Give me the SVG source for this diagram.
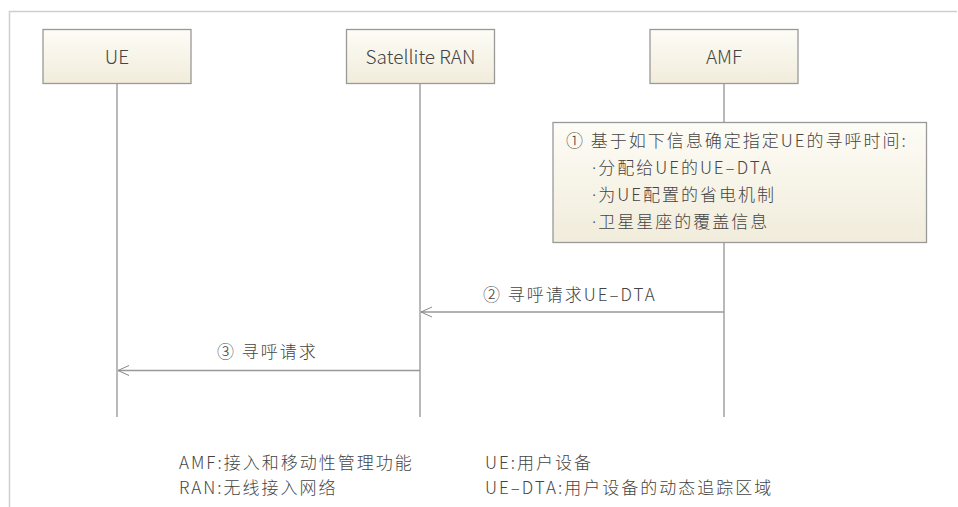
<svg xmlns="http://www.w3.org/2000/svg" width="958" height="507" viewBox="0 0 958 507">
<defs>
<linearGradient id="boxg" x1="0" y1="0" x2="0" y2="1">
<stop offset="0" stop-color="#fdfcf6"/>
<stop offset="1" stop-color="#f1ecdb"/>
</linearGradient>
<marker id="arr" markerWidth="14" markerHeight="12" refX="12" refY="6" orient="auto" markerUnits="userSpaceOnUse">
<path d="M1,1 L12,6 L1,11" fill="none" stroke="#888" stroke-width="1"/>
</marker>
</defs>
<style>
.frame{stroke:#cfcfcf;stroke-width:1.5;fill:none}
.box{fill:url(#boxg);stroke:#999;stroke-width:1.3}
.life{stroke:#8a8a8a;stroke-width:1.2;fill:none}
.msg{stroke:#999;stroke-width:1.3;fill:none}
text{font-family:"Noto Sans CJK SC","Noto Sans",sans-serif;fill:#444;font-weight:300}
.lbl{font-size:19px;text-anchor:middle}
.t{font-size:17px;letter-spacing:2px}
.dot{font-family:"Noto Sans",sans-serif}
</style>
<rect width="958" height="507" fill="#fff"/>
<path class="frame" d="M9.5,507 V11.5 H957"/>
<g id="connectors">
<line class="life" x1="117" y1="84" x2="117" y2="417"/>
<line class="life" x1="420" y1="84" x2="420" y2="417"/>
<line class="life" x1="724" y1="84" x2="724" y2="417"/>
<line class="msg" x1="724" y1="312" x2="421" y2="312" marker-end="url(#arr)"/>
<line class="msg" x1="420" y1="370.5" x2="118" y2="370.5" marker-end="url(#arr)"/>
<text class="t" x="483" y="301">② 寻呼请求UE–DTA</text>
<text class="t" x="217" y="358">③ 寻呼请求</text>
</g>
<g id="ue">
<rect class="box" x="43" y="29.5" width="148" height="54"/>
<text class="lbl" x="117" y="64">UE</text>
</g>
<g id="ran">
<rect class="box" x="346.5" y="29.5" width="148" height="54"/>
<text class="lbl" x="420.5" y="64">Satellite RAN</text>
</g>
<g id="amf">
<rect class="box" x="650" y="29.5" width="148" height="54"/>
<text class="lbl" x="724" y="64">AMF</text>
</g>
<g id="note">
<rect class="box" x="553" y="122.5" width="373.5" height="120"/>
<text class="t" x="566" y="147">① 基于如下信息确定指定UE的寻呼时间:</text>
<text class="t" x="592" y="174"><tspan class="dot">·</tspan>分配给UE的UE–DTA</text>
<text class="t" x="592" y="201"><tspan class="dot">·</tspan>为UE配置的省电机制</text>
<text class="t" x="592" y="228"><tspan class="dot">·</tspan>卫星星座的覆盖信息</text>
</g>
<g id="legend">
<text class="t" x="179" y="469">AMF:接入和移动性管理功能</text>
<text class="t" x="179" y="494">RAN:无线接入网络</text>
<text class="t" x="485" y="469">UE:用户设备</text>
<text class="t" x="485" y="494">UE–DTA:用户设备的动态追踪区域</text>
</g>
</svg>
